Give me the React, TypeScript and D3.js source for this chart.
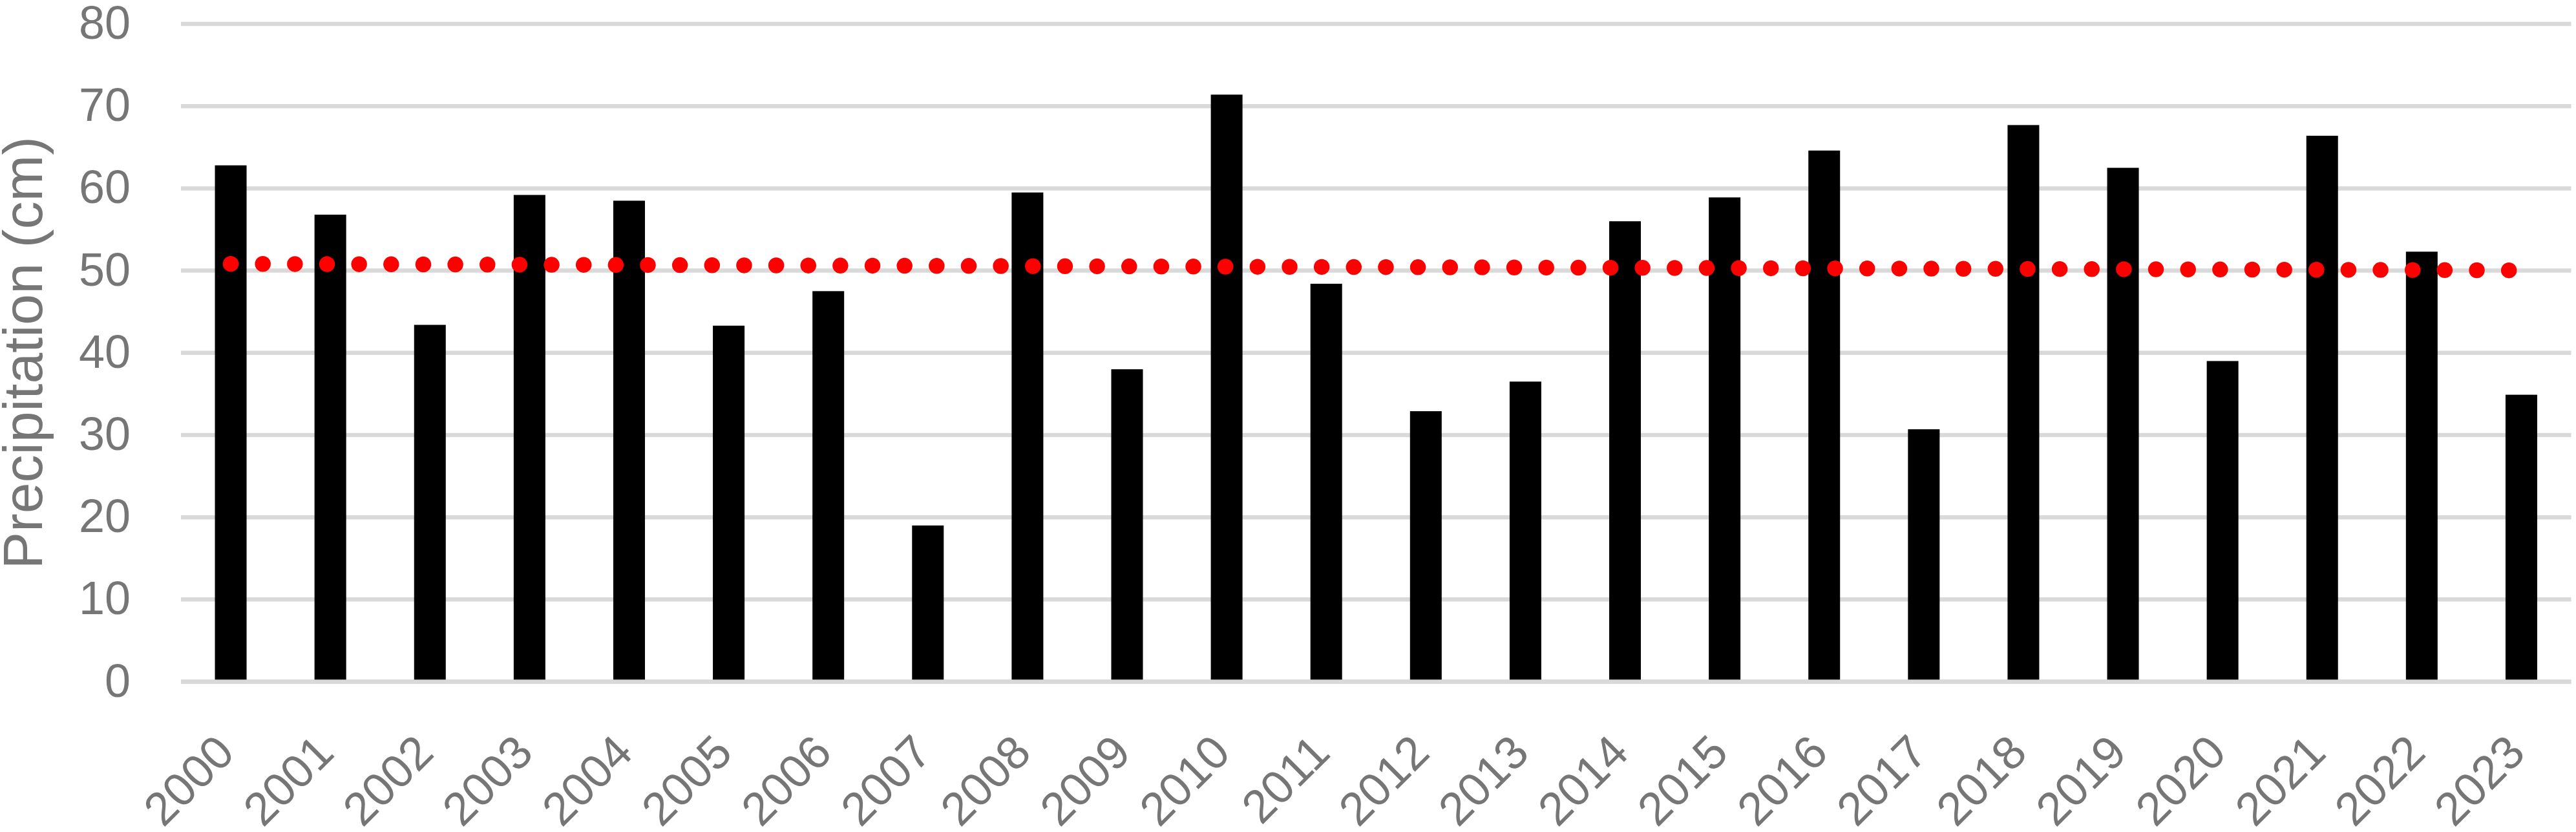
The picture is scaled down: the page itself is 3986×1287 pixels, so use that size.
import React from "react";
import * as d3 from "d3";

const years: string[] = [
  "2000","2001","2002","2003","2004","2005","2006","2007","2008","2009","2010","2011",
  "2012","2013","2014","2015","2016","2017","2018","2019","2020","2021","2022","2023",
];
const precipitation: number[] = [
  62.8, 56.8, 43.4, 59.2, 58.5, 43.3, 47.5, 19.0, 59.5, 38.0, 71.4, 48.4,
  32.9, 36.5, 56.0, 58.9, 64.6, 30.7, 67.7, 62.5, 39.0, 66.4, 52.3, 34.9,
];
const yTicks: number[] = [0, 10, 20, 30, 40, 50, 60, 70, 80];
const trendYears: string[] = ["2000", "2023"];
const trendValues: number[] = [50.82, 50.03];
const yTitle = "Precipitation (cm)";

const W = 3986;
const H = 1287;
const FONT = "'Liberation Sans', Arial, Helvetica, sans-serif";
const GRAY = "#767676";
const GRID = "#d9d9d9";

export default function App() {
  const x = d3.scaleBand<string>().domain(years).range([280, 3978.5]).paddingInner(0.682).paddingOuter(0.341);
  const y = d3.scaleLinear().domain([0, 80]).range([1054.5, 37]);
  const cx = (d: string) => (x(d) as number) + x.bandwidth() / 2;

  const line = d3
    .line<number>()
    .x((_, i) => cx(trendYears[i]))
    .y((v) => y(v));

  return (
    <svg
      width={W}
      height={H}
      style={{ position: "absolute", left: 0, top: 0, background: "#fff" }}
      fontFamily={FONT}
    >
      <rect x={0} y={0} width={W} height={H} fill="#fff" />
      {yTicks.map((t) => (
        <line key={"g" + t} x1={280} x2={3978.5} y1={y(t)} y2={y(t)} stroke={GRID} strokeWidth={6.5} />
      ))}
      {years.map((yr, i) => (
        <rect
          key={"b" + yr}
          x={x(yr)}
          y={y(precipitation[i])}
          width={x.bandwidth()}
          height={y(0) - y(precipitation[i])}
          fill="#000"
        />
      ))}
      <line x1={280} x2={3978.5} y1={y(0)} y2={y(0)} stroke={GRID} strokeWidth={6.5} />
      <path
        d={line(trendValues) || ""}
        fill="none"
        stroke="#ff0000"
        strokeWidth={24.5}
        strokeLinecap="round"
        strokeDasharray="0 49.65"
      />
      {yTicks.map((t) => (
        <text
          key={"yl" + t}
          x={202}
          y={y(t)}
          dy="0.32em"
          textAnchor="end"
          fontSize={72}
          fill={GRAY}
        >
          {t}
        </text>
      ))}
      <text
        transform={`translate(65, ${(y(0) + y(80)) / 2}) rotate(-90)`}
        textAnchor="middle"
        fontSize={86}
        fill={GRAY}
      >
        {yTitle}
      </text>
      {years.map((yr) => (
        <text
          key={"xl" + yr}
          transform={`translate(${cx(yr) + 9}, 1168) rotate(-45)`}
          textAnchor="end"
          fontSize={72}
          fill={GRAY}
        >
          {yr}
        </text>
      ))}
    </svg>
  );
}
